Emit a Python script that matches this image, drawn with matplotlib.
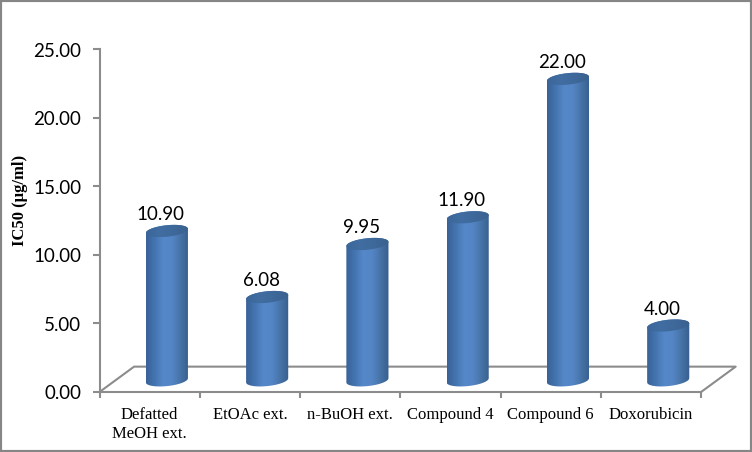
import numpy as np
import matplotlib
matplotlib.use('Agg')
import matplotlib.pyplot as plt
from matplotlib.patches import PathPatch, Rectangle
from matplotlib.path import Path
from matplotlib.colors import LinearSegmentedColormap

categories = ['Defatted\nMeOH ext.', 'EtOAc ext.', 'n-BuOH ext.', 'Compound 4', 'Compound 6', 'Doxorubicin']
values = [10.90, 6.08, 9.95, 11.90, 22.00, 4.00]
labels = ['10.90', '6.08', '9.95', '11.90', '22.00', '4.00']
yticks = [0, 5, 10, 15, 20, 25]

W, H = 752, 452
GRAY = '#8c8c8c'
TXT = '#000000'

fig = plt.figure(figsize=((W + 0.1) / 100, (H + 0.1) / 100), dpi=100)
# axes box in pixels: x 99.5-701, y 49.5-392
ax = fig.add_axes([99.5 / W, 1 - 392 / H, 601.5 / W, 342.5 / H])

side_cmap = LinearSegmentedColormap.from_list('side', ['#3a6298', '#4474b0', '#5588c9', '#5486c6', '#4773a8', '#38608f'])
top_cmap = LinearSegmentedColormap.from_list('top', ['#3c6698', '#416da2', '#3e6899', '#3a6290'])
grad = np.linspace(0, 1, 64).reshape(1, -1)

# 3D look of the cylinders, in data units
shift = 0.172
a = 0.21
b = 0.42
tilt = 0.72
base = 0.85


def ellipse(cx, cy, t):
    dx = np.cos(t)
    return cx + a * dx, cy + b * np.sin(t) + tilt * a * dx


for i, v in enumerate(values):
    cx = i + shift
    top = base + v

    # body: lower half of the base ellipse, then upper half of the top one
    t1 = np.linspace(np.pi, 2 * np.pi, 40)
    t2 = np.linspace(0, np.pi, 40)
    x1, y1 = ellipse(cx, base, t1)
    x2, y2 = ellipse(cx, top, t2)
    body = PathPatch(Path(np.c_[np.r_[x1, x2], np.r_[y1, y2]]), fc='none', ec='none', transform=ax.transData)
    ax.add_patch(body)
    im = ax.imshow(grad, cmap=side_cmap, aspect='auto', extent=[cx - a, cx + a, base - 1, top + 1], zorder=3)
    im.set_clip_path(body)

    t = np.linspace(0, 2 * np.pi, 80)
    xt, yt = ellipse(cx, top, t)
    cap = PathPatch(Path(np.c_[xt, yt]), fc='none', ec='none', transform=ax.transData)
    ax.add_patch(cap)
    im2 = ax.imshow(grad, cmap=top_cmap, aspect='auto', extent=[cx - a, cx + a, top - 1, top + 1], zorder=4)
    im2.set_clip_path(cap)

    ax.annotate(labels[i], (cx, top), xytext=(-6, 8), textcoords='offset pixels', ha='center', va='bottom',
                fontsize=13.5, family='Lato', color=TXT, zorder=5, annotation_clip=False)

ax.set_xlim(-0.5, 5.5)
ax.set_ylim(0, 25)

# floor of the 3D box
depth_x, depth_y = 0.345, 1.85
floor_kw = dict(color=GRAY, lw=1.5, clip_on=False, zorder=1, solid_capstyle='butt')
ax.plot([-0.5, -0.5 + depth_x, 5.5 + depth_x, 5.5], [0, depth_y, depth_y, 0], **floor_kw)

for s in ['top', 'right']:
    ax.spines[s].set_visible(False)
for s in ['left', 'bottom']:
    ax.spines[s].set_color(GRAY)
    ax.spines[s].set_linewidth(1.5)

ax.set_yticks(yticks)
ax.set_yticklabels(['%.2f' % y for y in yticks], fontsize=13.5, family='Lato', color=TXT)
ax.tick_params(axis='y', length=5, width=1.5, color=GRAY, pad=8)

ax.set_xticks(range(len(categories)))
ax.set_xticklabels(categories, fontsize=12, family='Liberation Serif', color=TXT, linespacing=1.2)
ax.set_xticks(np.arange(-0.5, 6), minor=True)
ax.tick_params(axis='x', which='major', length=0, pad=11)
ax.tick_params(axis='x', which='minor', length=4, width=1.5, color=GRAY)

fig.text(19.5 / W, 1 - 200 / H, 'IC50 (µg/ml)', rotation=90, ha='center', va='center',
         fontsize=12, fontweight='bold', family='Liberation Serif', color=TXT)

# chart border
fig.add_artist(Rectangle((0, 0), 1, 1, transform=fig.transFigure, fc='none', ec='#868686', lw=3))

fig.savefig('out.png', dpi=100)
